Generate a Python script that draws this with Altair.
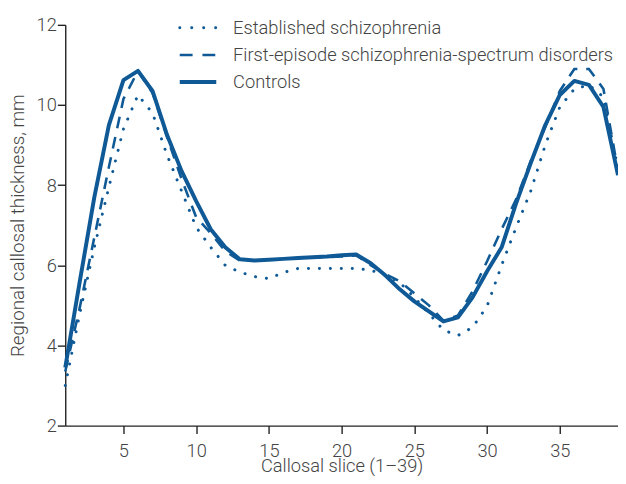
import altair as alt
import pandas as pd

slices = list(range(1, 40))

established = [3.0, 4.8, 6.45, 7.95, 9.4, 10.25, 9.8, 8.75, 7.85, 6.95,
               6.45, 6.0, 5.83, 5.72, 5.67, 5.82, 5.92, 5.92, 5.92, 5.92,
               5.92, 5.88, 5.75, 5.57, 5.2, 4.8, 4.38, 4.25, 4.45, 4.98,
               6.0, 6.95, 7.85, 9.0, 9.95, 10.4, 10.5, 10.2, 8.4]

first_episode = [3.35, 4.95, 6.7, 8.45, 10.15, 10.85, 10.3, 9.2, 8.15, 7.2,
                 6.8, 6.35, 6.12, 6.12, 6.14, 6.16, 6.18, 6.2, 6.2, 6.22,
                 6.25, 6.0, 5.78, 5.6, 5.3, 5.0, 4.62, 4.75, 5.35, 6.1,
                 6.9, 7.65, 8.6, 9.45, 10.35, 10.9, 10.9, 10.4, 8.35]

controls = [3.45, 5.6, 7.7, 9.5, 10.62, 10.85, 10.35, 9.25, 8.35, 7.6,
            6.9, 6.45, 6.15, 6.12, 6.14, 6.16, 6.18, 6.2, 6.22, 6.25,
            6.27, 6.05, 5.75, 5.4, 5.1, 4.85, 4.6, 4.7, 5.2, 5.85,
            6.45, 7.55, 8.55, 9.5, 10.25, 10.6, 10.5, 9.95, 8.25]

groups = ["Established schizophrenia",
          "First-episode schizophrenia-spectrum disorders",
          "Controls"]

x_ticks = [5, 10, 15, 20, 25, 30, 35]
y_ticks = [2, 4, 6, 8, 10, 12]

BLUE = "#0f5a96"
TEXT = "#444444"
FONT = "Roboto"
FS = 18.5

df = pd.DataFrame({
    "slice": slices * 3,
    "thickness": established + first_episode + controls,
    "group": [groups[0]] * 39 + [groups[1]] * 39 + [groups[2]] * 39,
})

x_enc = alt.X("slice:Q",
              scale=alt.Scale(domain=[1, 39], nice=False, zero=False),
              axis=alt.Axis(values=x_ticks, title="Callosal slice (1–39)",
                            grid=False, tickSize=8, labelPadding=8,
                            titleBaseline="alphabetic", titleY=46.5))
y_enc = alt.Y("thickness:Q",
              scale=alt.Scale(domain=[2, 12], nice=False, zero=False),
              axis=alt.Axis(values=y_ticks, title="Regional callosal thickness, mm",
                            grid=False, tickSize=8, labelPadding=1,
                            titlePadding=9, titleFontSize=19))

base = alt.Chart(df).encode(x=x_enc, y=y_enc)

dotted = base.transform_filter(alt.datum.group == groups[0]).mark_line(
    color=BLUE, strokeWidth=3, strokeDash=[0.1, 11], strokeCap="round")
dashed = base.transform_filter(alt.datum.group == groups[1]).mark_line(
    color=BLUE, strokeWidth=2.6, strokeDash=[12, 9])
solid = base.transform_filter(alt.datum.group == groups[2]).mark_line(
    color=BLUE, strokeWidth=4, strokeJoin="round")

leg_df = pd.DataFrame({"label": groups})

def leg_rule(i, **kw):
    return alt.Chart(leg_df.iloc[[i]]).mark_rule(color=BLUE, **kw).encode(
        x=alt.value(116), x2=alt.value(153), y=alt.value(3 + 27.5 * i))

def leg_text(i):
    return alt.Chart(leg_df.iloc[[i]]).mark_text(
        align="left", baseline="middle", font=FONT, fontSize=FS,
        fontWeight=300, color=TEXT).encode(
        x=alt.value(170), y=alt.value(3 + 27.5 * i), text="label:N")

legend = (leg_rule(0, strokeWidth=3, strokeDash=[0.1, 12], strokeCap="round")
          + leg_rule(1, strokeWidth=2.6, strokeDash=[13, 10])
          + leg_rule(2, strokeWidth=4)
          + leg_text(0) + leg_text(1) + leg_text(2))

chart = alt.layer(dotted, dashed, solid, legend).properties(
    width=560, height=406,
    autosize=alt.AutoSizeParams(type="none"),
    padding={"left": 58, "top": 14, "right": 0, "bottom": 48},
).configure_view(stroke=None).configure_axis(
    labelFont=FONT, titleFont=FONT, labelFontSize=FS, titleFontSize=FS,
    labelFontWeight=300, titleFontWeight=300,
    labelColor=TEXT, titleColor=TEXT,
    domainColor="#222222", tickColor="#222222", domainWidth=1.4, tickWidth=1.4,
)

chart.save("out.html", embed_options={"renderer": "svg", "actions": False})
